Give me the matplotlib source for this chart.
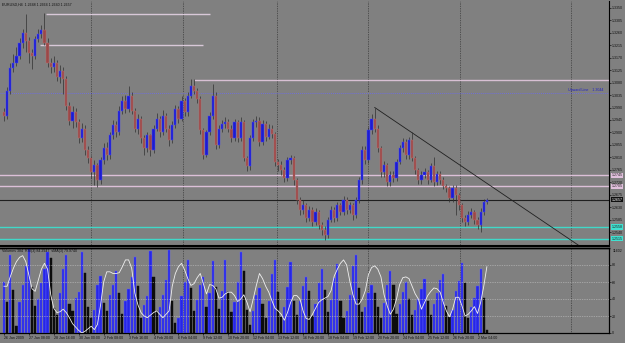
import numpy as np
import matplotlib
matplotlib.use('Agg')
import matplotlib.pyplot as plt
import matplotlib.transforms as mtransforms

plt.rcParams['font.family'] = ['Liberation Sans', 'DejaVu Sans']

# EURUSD H4 bars, 26 Jan - 2 Mar 2009 (each bar opens at the previous close)
first_open = 1.2972
close = [1.2961, 1.3051, 1.3134, 1.3152, 1.3177, 1.3224, 1.3260, 1.3231, 1.3188, 1.3177,
         1.3238, 1.3256, 1.3271, 1.3224, 1.3152, 1.3137, 1.3152, 1.3101, 1.3123, 1.3094,
         1.2997, 1.2943, 1.2972, 1.2936, 1.2878, 1.2914, 1.2835, 1.2806, 1.2756, 1.2781,
         1.2727, 1.2799, 1.2842, 1.2817, 1.2889, 1.2925, 1.2900, 1.2979, 1.3015, 1.2986,
         1.3033, 1.2979, 1.2914, 1.2950, 1.2878, 1.2842, 1.2889, 1.2835, 1.2914, 1.2950,
         1.2900, 1.2961, 1.2914, 1.2871, 1.2925, 1.2986, 1.2950, 1.3015, 1.2972, 1.3033,
         1.3069, 1.3051, 1.3022, 1.2907, 1.2817, 1.2900, 1.2961, 1.3033, 1.2853, 1.2914,
         1.2929, 1.2936, 1.2914, 1.2878, 1.2936, 1.2878, 1.2936, 1.2806, 1.2777, 1.2878,
         1.2936, 1.2943, 1.2864, 1.2932, 1.2885, 1.2914, 1.2893, 1.2792, 1.2781, 1.2763,
         1.2734, 1.2799, 1.2806, 1.2727, 1.2655, 1.2619, 1.2637, 1.2590, 1.2619, 1.2576,
         1.2612, 1.2565, 1.2547, 1.2529, 1.2583, 1.2619, 1.2590, 1.2637, 1.2612, 1.2655,
         1.2619, 1.2637, 1.2601, 1.2655, 1.2727, 1.2835, 1.2799, 1.2907, 1.2950, 1.2914,
         1.2842, 1.2756, 1.2781, 1.2720, 1.2745, 1.2734, 1.2792, 1.2842, 1.2867, 1.2817,
         1.2871, 1.2806, 1.2763, 1.2727, 1.2745, 1.2756, 1.2727, 1.2777, 1.2720, 1.2749,
         1.2727, 1.2705, 1.2698, 1.2662, 1.2698, 1.2673, 1.2637, 1.2590, 1.2576, 1.2601,
         1.2612, 1.2583, 1.2565, 1.2612, 1.2648, 1.2657]
high = [1.2990, 1.3065, 1.3150, 1.3185, 1.3210, 1.3240, 1.3275, 1.3328, 1.3245, 1.3200,
        1.3250, 1.3275, 1.3290, 1.3332, 1.3240, 1.3170, 1.3175, 1.3160, 1.3145, 1.3135,
        1.3105, 1.3010, 1.2995, 1.2990, 1.2950, 1.2935, 1.2925, 1.2850, 1.2815, 1.2800,
        1.2790, 1.2810, 1.2860, 1.2865, 1.2900, 1.2945, 1.2940, 1.2995, 1.3030, 1.3035,
        1.3069, 1.3045, 1.2990, 1.2965, 1.2960, 1.2890, 1.2900, 1.2895, 1.2925, 1.2970,
        1.2960, 1.2980, 1.2970, 1.2925, 1.2940, 1.3000, 1.2995, 1.3030, 1.3025, 1.3045,
        1.3094, 1.3094, 1.3060, 1.3030, 1.2915, 1.2910, 1.2975, 1.3076, 1.3045, 1.2925,
        1.2945, 1.2955, 1.2950, 1.2925, 1.2950, 1.2945, 1.2955, 1.2945, 1.2815, 1.2890,
        1.2950, 1.2960, 1.2955, 1.2945, 1.2940, 1.2930, 1.2925, 1.2900, 1.2805, 1.2795,
        1.2775, 1.2810, 1.2820, 1.2815, 1.2735, 1.2665, 1.2655, 1.2645, 1.2635, 1.2630,
        1.2625, 1.2620, 1.2575, 1.2560, 1.2595, 1.2635, 1.2630, 1.2650, 1.2645, 1.2670,
        1.2665, 1.2650, 1.2645, 1.2665, 1.2740, 1.2850, 1.2850, 1.2920, 1.2965, 1.2990,
        1.2925, 1.2850, 1.2795, 1.2790, 1.2760, 1.2760, 1.2805, 1.2855, 1.2880, 1.2875,
        1.2885, 1.2900, 1.2815, 1.2770, 1.2760, 1.2770, 1.2765, 1.2790, 1.2810, 1.2760,
        1.2760, 1.2740, 1.2715, 1.2705, 1.2710, 1.2710, 1.2680, 1.2645, 1.2600, 1.2615,
        1.2625, 1.2620, 1.2595, 1.2625, 1.2660, 1.2664]
low = [1.2940, 1.2950, 1.3040, 1.3120, 1.3140, 1.3165, 1.3205, 1.3190, 1.3150, 1.3130,
       1.3165, 1.3225, 1.3240, 1.3215, 1.3135, 1.3115, 1.3120, 1.3085, 1.3080, 1.3040,
       1.2980, 1.2925, 1.2915, 1.2920, 1.2860, 1.2865, 1.2820, 1.2790, 1.2735, 1.2710,
       1.2702, 1.2715, 1.2785, 1.2800, 1.2805, 1.2875, 1.2885, 1.2890, 1.2965, 1.2970,
       1.2975, 1.2965, 1.2900, 1.2895, 1.2860, 1.2820, 1.2830, 1.2815, 1.2825, 1.2905,
       1.2885, 1.2890, 1.2900, 1.2850, 1.2860, 1.2915, 1.2935, 1.2940, 1.2960, 1.2960,
       1.3025, 1.3040, 1.3005, 1.2895, 1.2805, 1.2810, 1.2890, 1.2950, 1.2840, 1.2845,
       1.2900, 1.2915, 1.2900, 1.2865, 1.2870, 1.2865, 1.2870, 1.2795, 1.2760, 1.2765,
       1.2870, 1.2920, 1.2850, 1.2855, 1.2870, 1.2875, 1.2880, 1.2780, 1.2760, 1.2745,
       1.2720, 1.2725, 1.2785, 1.2710, 1.2640, 1.2600, 1.2605, 1.2575, 1.2580, 1.2560,
       1.2565, 1.2550, 1.2530, 1.2512, 1.2520, 1.2575, 1.2575, 1.2580, 1.2600, 1.2600,
       1.2605, 1.2610, 1.2585, 1.2590, 1.2645, 1.2715, 1.2785, 1.2790, 1.2895, 1.2900,
       1.2830, 1.2740, 1.2740, 1.2705, 1.2705, 1.2720, 1.2725, 1.2785, 1.2830, 1.2805,
       1.2805, 1.2795, 1.2750, 1.2715, 1.2715, 1.2735, 1.2715, 1.2720, 1.2705, 1.2710,
       1.2715, 1.2695, 1.2685, 1.2650, 1.2650, 1.2600, 1.2620, 1.2575, 1.2560, 1.2565,
       1.2590, 1.2570, 1.2550, 1.2540, 1.2600, 1.2640]
volume = [7000, 4200, 10600, 5900, 1000, 4200, 6600, 9200, 11400, 6300,
          3700, 4600, 6800, 8700, 11000, 10300, 3400, 2500, 5400, 8700,
          10600, 4000, 3000, 4800, 5600, 11000, 8200, 3500, 2000, 3200,
          6500, 7800, 4100, 3000, 5200, 6600, 8500, 5400, 2600, 4400,
          6000, 7600, 10400, 6400, 2000, 3800, 5000, 11200, 7600, 3000,
          3600, 5200, 7200, 11300, 4300, 1400, 2000, 5000, 7000, 9900,
          6100, 3000, 4500, 6500, 7700, 3600, 5500, 9800, 6300, 3300,
          5800, 9900, 5600, 2800, 4200, 7000, 11000, 8500, 3100, 1100,
          3000, 5200, 6100, 4000, 2000, 4300, 8000, 10000, 5600, 2200,
          3600, 6300, 9700, 4400, 2500, 4400, 6400, 7600, 5800, 2300,
          4000, 6800, 8700, 5900, 2800, 4500, 7500, 9400, 4400, 2000,
          3000, 5200, 9100, 10700, 6100, 2800, 3600, 5400, 6500, 5500,
          3500, 2000, 4100, 6500, 8500, 6600, 2600, 3900, 5600, 7000,
          4600, 2400, 3200, 4700, 6000, 7400, 4300, 2400, 4000, 5400,
          7200, 8000, 3700, 2200, 3200, 5700, 7100, 9600, 6800, 2100,
          3600, 4800, 6400, 8700, 4800, 384]
rsi = [55, 55, 66, 76, 84, 89, 91, 84, 68, 52, 49, 62, 75, 82, 75, 45, 29, 24, 25, 28,
       24, 18, 11, 7, 3, 0, 2, 5, 8, 4, 10, 33, 60, 72, 72, 70, 70, 71, 78, 86,
       86, 76, 47, 33, 24, 20, 18, 21, 24, 26, 22, 18, 22, 26, 55, 70, 78, 82, 74, 64,
       56, 58, 65, 70, 58, 46, 57, 56, 52, 41, 42, 46, 48, 48, 44, 37, 40, 45, 36, 25,
       40, 56, 70, 64, 55, 48, 38, 29, 26, 22, 15, 24, 36, 44, 44, 40, 26, 17, 16, 22,
       29, 36, 39, 41, 43, 50, 67, 75, 82, 86, 80, 61, 45, 34, 34, 40, 50, 69, 77, 79,
       75, 66, 45, 32, 22, 28, 40, 57, 65, 66, 64, 55, 46, 40, 28, 36, 44, 49, 53, 52,
       48, 36, 26, 19, 28, 42, 42, 32, 20, 22, 26, 31, 23, 36, 55, 78]

date_ticks = [0, 8, 16, 24, 32, 40, 48, 56, 64, 72, 80, 88, 96, 104, 112, 120, 128, 136, 144, 152]
date_labels = ['26 Jan 2009', '27 Jan 08:00', '28 Jan 16:00', '30 Jan 00:00', '2 Feb 08:00',
               '3 Feb 16:00', '4 Feb 20:00', '6 Feb 04:00', '9 Feb 12:00', '10 Feb 20:00',
               '12 Feb 04:00', '13 Feb 12:00', '16 Feb 20:00', '18 Feb 04:00', '19 Feb 12:00',
               '20 Feb 20:00', '24 Feb 04:00', '25 Feb 12:00', '26 Feb 20:00', '2 Mar 04:00']

# drawn objects on the chart
old_highs = [(1.3328, 13.5, 66), (1.3217, 11.5, 64)]   # price, from bar, to bar
upper_level = (1.3091, 61)
upward_line = 1.3044
pink_levels = [1.2745, 1.2705]
cyan_levels = [1.2558, 1.2515]
trend_x = [119, 186]
trend_y = [1.2990, 1.2480]
week_grid = [28, 57.5, 87.5, 117, 146.5, 182]
price_ticks = [1.3350, 1.3305, 1.3260, 1.3215, 1.3170, 1.3125, 1.3080, 1.3035, 1.2990, 1.2945,
               1.2900, 1.2855, 1.2810, 1.2765, 1.2720, 1.2675, 1.2630, 1.2585, 1.2540]

bg = '#808080'
bull = '#1c1cd0'
bear = '#9a4848'
fs = 2.6

o = np.array([first_open] + close[:-1])
c = np.array(close)
h = np.array(high)
l = np.array(low)
x = np.arange(len(c))
up = c >= o

fig = plt.figure(figsize=(6.25, 3.43), dpi=100, facecolor=bg)
ax = fig.add_axes([0, 1 - 246 / 343, 609 / 625, 245 / 343], facecolor=bg)
axv = fig.add_axes([0, 10 / 343, 609 / 625, 85 / 343], facecolor=bg, sharex=ax)

# candles
ax.vlines(x, l, h, color='#303030', lw=0.5, zorder=2)
body_h = np.maximum(np.abs(c - o), 0.00015)
ax.bar(x, body_h, bottom=np.minimum(o, c), width=0.72,
       color=np.where(up, bull, bear), edgecolor=np.where(up, '#4a4aff', '#c07070'),
       linewidth=0.3, zorder=3)

# lines drawn on the chart
for p, x0, x1 in old_highs:
    ax.hlines(p, x0, x1, color='#d8c8d8', lw=1.0, zorder=1)
ax.hlines(upper_level[0], upper_level[1], 200, color='#d8c0d4', lw=1.0, zorder=1)
ax.axhline(upward_line, color='#7070d8', lw=0.7, ls=(0, (1, 1)), zorder=1)
ax.text(181, upward_line + 0.0002, 'Upward Line    1.3044', color='#2020c8',
        fontsize=fs, va='bottom', ha='left')
for p in pink_levels:
    ax.axhline(p, color='#dcc0d8', lw=1.0, zorder=1)
for p in cyan_levels:
    ax.axhline(p, color='#40d8c8', lw=1.0, zorder=1)
ax.axhline(c[-1], color='#202020', lw=0.8, zorder=1)
ax.plot(trend_x, trend_y, color='#202020', lw=0.6, zorder=1)

for g in week_grid:
    ax.axvline(g, color='#202020', lw=0.5, ls=(0, (1, 1.5)), zorder=0)
    axv.axvline(g, color='#202020', lw=0.5, ls=(0, (1, 1.5)), zorder=0)

ax.set_xlim(-1.28, 194.2)
ax.set_ylim(1.24894, 1.3375)
ax.yaxis.tick_right()
ax.set_yticks(price_ticks)
ax.set_yticklabels(['%.4f' % p for p in price_ticks])
ax.tick_params(axis='y', labelsize=fs, length=1.5, pad=0.8, colors='#101010', width=0.5)
ax.tick_params(axis='x', bottom=False, labelbottom=False)
for s in ['left', 'top']:
    ax.spines[s].set_visible(False)
ax.spines['right'].set_linewidth(0.8)
ax.spines['bottom'].set_linewidth(1.5)

ax.text(0.004, 0.995, 'EURUSD,H4  1.2648 1.2664 1.2640 1.2657', transform=ax.transAxes,
        fontsize=fs, va='top', ha='left', color='#101010')

# price boxes on the right scale
tr = mtransforms.blended_transform_factory(ax.transAxes, ax.transData)
boxes = [(pink_levels[0], '#e0c0dc', '#202020'), (pink_levels[1], '#e0c0dc', '#202020'),
         (c[-1], '#101010', '#ffffff'),
         (cyan_levels[0], '#40e0d0', '#202020'), (cyan_levels[1], '#40e0d0', '#202020')]
for p, fc, tc in boxes:
    ax.text(1.004, p, '%.4f' % p, transform=tr, fontsize=fs, color=tc, va='center', ha='left',
            bbox=dict(boxstyle='square,pad=0.15', fc=fc, ec='none'), zorder=5, clip_on=False)

# volume panel: blue when volume rises against the previous bar, black otherwise
vol = np.array(volume)
rising = np.concatenate([[True], vol[1:] > vol[:-1]])
axv.bar(x, vol, width=0.72, color=np.where(rising, '#2626e6', '#0c0c0c'),
        edgecolor=np.where(rising, '#6060ff', '#0c0c0c'), linewidth=0.3, zorder=2)
axv.set_ylim(0, 11602)
axv.set_yticks([])
axr = axv.twinx()
axr.plot(x, rsi, color='#f0f0f0', lw=0.6, zorder=3)
for lv in [20, 40, 60, 80]:
    axr.axhline(lv, color='#c8c8c8', lw=0.5, ls=(0, (1, 1.5)), zorder=1)
axr.set_ylim(0, 100)
axr.set_yticks([0, 20, 40, 60, 80])
axr.tick_params(axis='y', labelsize=fs, length=1.5, pad=0.8, colors='#101010', width=0.5)
axr.text(1.006, 0.96, '11602', transform=axr.transAxes, fontsize=fs, color='#101010',
         va='center', ha='left')
for a in [axv, axr]:
    a.spines['left'].set_visible(False)
    a.spines['top'].set_linewidth(1.0)
    a.spines['right'].set_linewidth(0.8)
    a.spines['bottom'].set_linewidth(0.8)

axv.text(0.004, 0.985, 'Volumes 384  RSI(3) 84.2947  sMA(3) 79.9740', transform=axv.transAxes,
         fontsize=fs, va='top', ha='left', color='#101010')

axv.set_xticks(date_ticks)
axv.set_xticklabels(date_labels, ha='left')
axv.tick_params(axis='x', labelsize=fs, length=1.5, pad=0.8, colors='#101010', width=0.5)
axv.set_xlim(-1.28, 194.2)

fig.savefig('out.png', dpi=100, facecolor=bg)
